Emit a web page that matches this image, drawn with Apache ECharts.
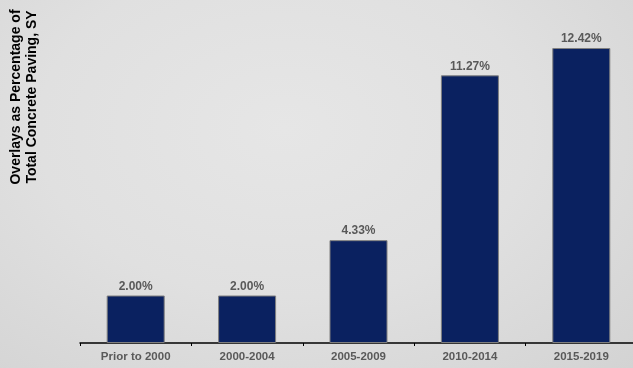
<!DOCTYPE html>
<html><head><meta charset="utf-8">
<script src="https://cdn.jsdelivr.net/npm/echarts@6/dist/echarts.min.js"></script>
<style>
html,body{margin:0;padding:0;overflow:hidden;width:633px;height:368px;}
body{background:radial-gradient(ellipse at 45% 35%, #e6e6e6 0%, #e0e0e0 50%, #d3d3d3 100%);}
#c{width:640px;height:368px;}
</style></head>
<body><div id="c"></div>
<script>
const categories = ["Prior to 2000", "2000-2004", "2005-2009", "2010-2014", "2015-2019"];
const values = [2.00, 2.00, 4.33, 11.27, 12.42];
const yTitle = "Overlays as Percentage of\nTotal Concrete Paving, SY";

const chart = echarts.init(document.getElementById('c'));
chart.setOption({
  animation: false,
  backgroundColor: 'transparent',
  grid: {left: 80, right: 3, top: 10.5, bottom: 25},
  xAxis: {
    type: 'category', data: categories,
    axisLine: {lineStyle: {color: '#000', width: 1.5}},
    axisTick: {show: true, length: 3, lineStyle: {color: '#000'}},
    axisLabel: {color: '#595959', fontWeight: 'bold', fontSize: 11.5, fontFamily: 'Liberation Sans, Arial', margin: 8}
  },
  yAxis: {type: 'value', min: 0, max: 14, show: false, splitLine: {show: false}},
  graphic: [{
    type: 'text', x: 24, y: 97, rotation: Math.PI / 2,
    style: {text: yTitle, fill: '#000', font: 'bold 14px "Liberation Sans", Arial', textAlign: 'center', textVerticalAlign: 'middle', lineHeight: 16}
  }],
  series: [{
    type: 'bar', data: values, barWidth: 58,
    itemStyle: {color: '#0a2160', borderColor: '#7f7f7f', borderWidth: 1},
    label: {show: true, position: 'top', distance: 3, color: '#595959', fontWeight: 'bold', fontSize: 12, fontFamily: 'Liberation Sans, Arial', formatter: p => p.value.toFixed(2) + '%'}
  }]
});
</script></body></html>
